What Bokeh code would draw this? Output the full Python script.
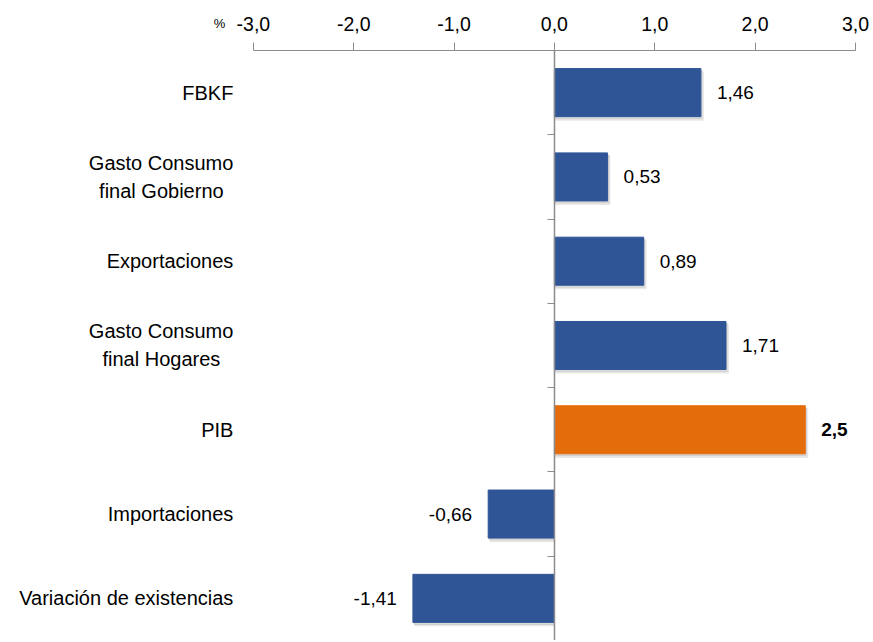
from bokeh.plotting import figure
from bokeh.models import ColumnDataSource, Range1d, LinearAxis, FixedTicker
from bokeh.transform import dodge
from bokeh.core.properties import value
from bokeh.embed import file_html
from bokeh.resources import INLINE

categories = ["FBKF", "Gasto Consumo\nfinal Gobierno", "Exportaciones",
              "Gasto Consumo\nfinal Hogares", "PIB", "Importaciones",
              "Variación de existencias"]
values = [1.46, 0.53, 0.89, 1.71, 2.5, -0.66, -1.41]
value_labels = ["1,46", "0,53", "0,89", "1,71", "2,5", "-0,66", "-1,41"]
highlight = "PIB"
x_ticks = [-3, -2, -1, 0, 1, 2, 3]
unit_label = "%"

BLUE = "#2F5597"
ORANGE = "#E46C0A"
AXIS = "#8C8C8C"
FONT = "Liberation Sans"

n = len(categories)
pos = list(range(n))
colors = [ORANGE if c == highlight else BLUE for c in categories]
aligns = ["left" if v >= 0 else "right" for v in values]
offsets = [16 if v >= 0 else -16 for v in values]
styles = ["bold" if c == highlight else "normal" for c in categories]

src = ColumnDataSource(dict(y=pos, v=values, c=colors, lab=value_labels,
                            al=aligns, off=offsets, st=styles))

# category labels: first line right aligned, second line centred under it
LINE_GAP = 14          # px from row centre to each line of a two-line label
FIRST_LINE_HALF = 72   # half width (px) of "Gasto Consumo" at 20px
first_lines, first_dy, second_lines, second_y = [], [], [], []
for i, c in enumerate(categories):
    parts = c.split("\n")
    first_lines.append(parts[0])
    first_dy.append(-LINE_GAP if len(parts) > 1 else 0)
    if len(parts) > 1:
        second_lines.append(parts[1])
        second_y.append(i)
cat1 = ColumnDataSource(dict(y=pos, t=first_lines, dy=first_dy,
                             x0=[min(x_ticks)] * n))
cat2 = ColumnDataSource(dict(y=second_y, t=second_lines,
                             x0=[min(x_ticks)] * len(second_y)))

# frame covers the whole canvas so that labels can be drawn as glyphs
p = figure(width=873, height=640, output_backend="svg", toolbar_location=None,
           x_range=Range1d(-5.52, 3.18),
           y_range=Range1d(n - 0.5, -1.093),
           x_axis_location=None, y_axis_location=None,
           min_border_left=0, min_border_right=0, min_border_top=0,
           min_border_bottom=0)
p.outline_line_color = None
p.xgrid.visible = False
p.ygrid.visible = False

# soft shadow
p.hbar(y=dodge("y", 0.04), right=dodge("v", 0.025), left=0, height=0.575,
       color="#7F7F7F", alpha=0.12, source=src)
p.hbar(y=dodge("y", 0.025), right=dodge("v", 0.012), left=0, height=0.57,
       color="#7F7F7F", alpha=0.18, source=src)
p.hbar(y="y", right="v", left=0, height=0.57, color="c", source=src)

p.text(x="v", y="y", text="lab", text_align="al", x_offset="off",
       text_font_style="st", text_baseline="middle", source=src,
       text_font_size="19px", text_font=value(FONT), text_color="black")

p.text(x="x0", y="y", text="t", text_align="right", x_offset=-20,
       y_offset="dy", text_baseline="middle", source=cat1,
       text_font_size="20px", text_font=value(FONT), text_color="black")
p.text(x="x0", y="y", text="t", text_align="center",
       x_offset=-20 - FIRST_LINE_HALF, y_offset=LINE_GAP,
       text_baseline="middle", source=cat2,
       text_font_size="20px", text_font=value(FONT), text_color="black")

# unit label
p.text(x=[min(x_ticks)], y=[-0.5], text=[unit_label], text_align="right",
       x_offset=-28, y_offset=-27, text_baseline="middle",
       text_font_size="13px", text_font=value(FONT), text_color="black")

# top value axis
xa = LinearAxis(ticker=FixedTicker(ticks=x_ticks), fixed_location=-0.5,
                bounds=(min(x_ticks), max(x_ticks)),
                major_label_overrides={t: f"{t:.1f}".replace(".", ",") for t in x_ticks})
xa.axis_line_color = AXIS
xa.major_tick_line_color = AXIS
xa.major_tick_in = 0
xa.major_tick_out = 8
xa.minor_tick_line_color = None
xa.major_label_text_font = FONT
xa.major_label_text_font_size = "19.5px"
xa.major_label_text_color = "black"
xa.major_label_standoff = 11
p.add_layout(xa, "above")

# zero line with category boundary ticks
za = LinearAxis(ticker=FixedTicker(ticks=[i + 0.5 for i in pos]),
                fixed_location=0, bounds=(-0.5, n - 0.5))
za.axis_line_color = AXIS
za.axis_line_width = 1.5
za.major_tick_line_color = AXIS
za.major_tick_in = 0
za.major_tick_out = 7
za.minor_tick_line_color = None
za.major_label_text_font_size = "0px"
za.major_label_text_color = None
p.add_layout(za, "left")

open("out.html", "w").write(file_html(p, INLINE))
